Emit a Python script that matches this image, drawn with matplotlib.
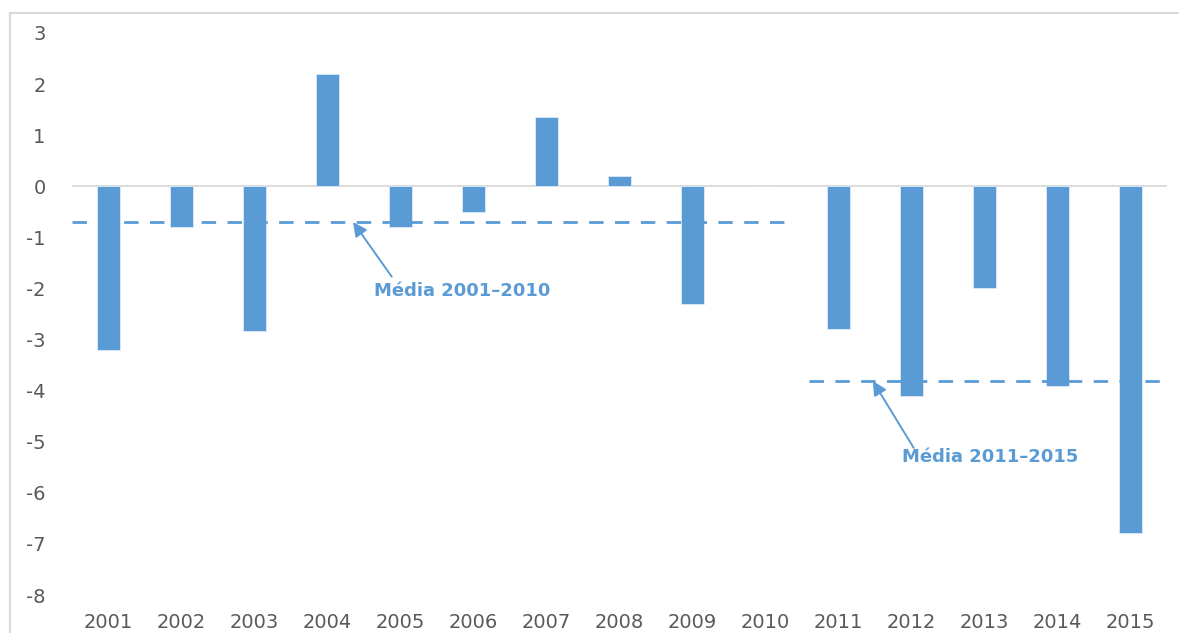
import numpy as np
import matplotlib.pyplot as plt
from matplotlib.lines import Line2D

# anos e resultado (% do PIB)
years = ['2001', '2002', '2003', '2004', '2005', '2006', '2007', '2008',
         '2009', '2010', '2011', '2012', '2013', '2014', '2015']
values = [-3.2, -0.8, -2.83, 2.2, -0.8, -0.5, 1.35, 0.2,
          -2.3, 0.0, -2.8, -4.1, -2.0, -3.9, -6.78]
yticks = [3, 2, 1, 0, -1, -2, -3, -4, -5, -6, -7, -8]
mean_2001_2010 = -0.7
mean_2011_2015 = -3.81

blue = '#5B9BD5'
grey_text = '#595959'

plt.rcParams['axes.unicode_minus'] = False

fig = plt.figure(figsize=(11.79, 6.33), dpi=100)
ax = fig.add_axes([0.0611, 0.0600, 0.9287, 0.8879])

x = np.arange(len(years))
ax.bar(x, values, width=0.31, color=blue, edgecolor='#DDEBF7', linewidth=0.6, zorder=3)
ax.axhline(0, color='#D9D9D9', linewidth=1.3, zorder=2)

# linhas das medias
dash = (0, (5.2, 4.1))
ax.plot([-0.5, 9.29], [mean_2001_2010] * 2, color=blue, lw=2, linestyle=dash, zorder=4)
ax.plot([9.6, 14.49], [mean_2011_2015] * 2, color=blue, lw=2, linestyle=dash, zorder=4)

arrow = dict(arrowstyle='-|>', color=blue, lw=1.4, mutation_scale=21, shrinkA=0, shrinkB=0)
ax.annotate('', xy=(3.35, mean_2001_2010), xytext=(3.88, -1.77), arrowprops=arrow, zorder=5)
ax.annotate('', xy=(10.47, mean_2011_2015), xytext=(11.03, -5.12), arrowprops=arrow, zorder=5)
ax.text(4.84, -2.05, 'Média 2001–2010', color=blue, fontsize=13, fontweight='bold',
        ha='center', va='center')
ax.text(12.08, -5.30, 'Média 2011–2015', color=blue, fontsize=13, fontweight='bold',
        ha='center', va='center')

ax.set_xlim(-0.5, len(years) - 0.5)
ax.set_ylim(-8, 3)
ax.set_xticks(x)
ax.set_xticklabels(years, fontsize=14, color=grey_text)
ax.set_yticks(yticks)
ax.set_yticklabels([str(t) for t in yticks], fontsize=14, color=grey_text)
ax.tick_params(axis='both', length=0)
ax.tick_params(axis='y', pad=19)
ax.tick_params(axis='x', pad=13)
for s in ax.spines.values():
    s.set_visible(False)

# moldura da area do grafico
fig.add_artist(Line2D([0.0085, 0.0085], [0, 0.980], color='#D9D9D9', lw=1.5))
fig.add_artist(Line2D([0.0085, 1], [0.980, 0.980], color='#D9D9D9', lw=1.5))

plt.savefig('out.png', dpi=100)
